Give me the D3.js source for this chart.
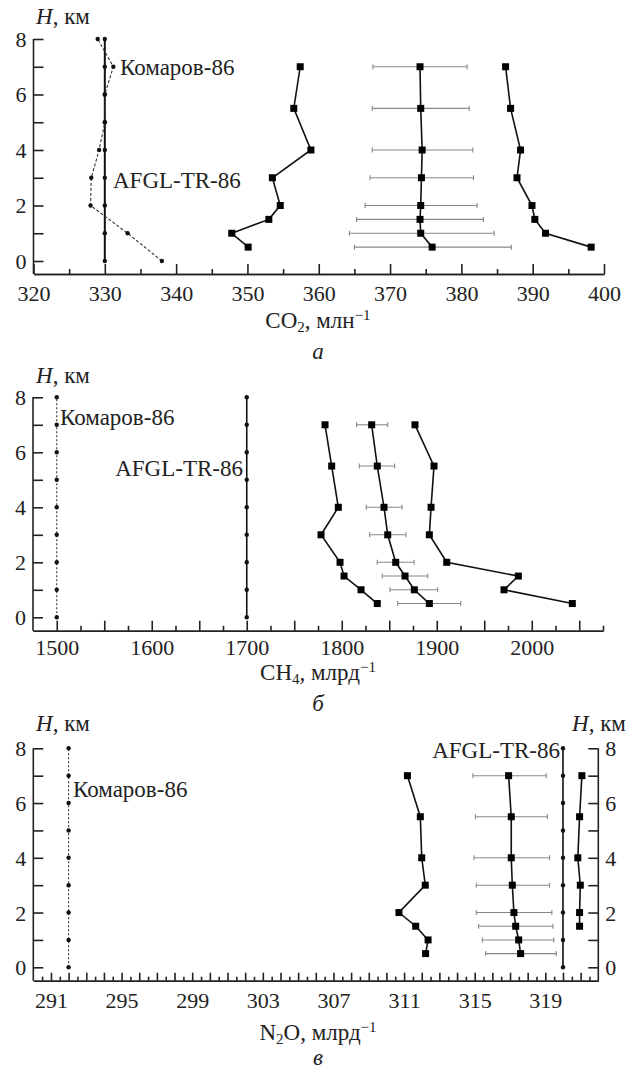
<!DOCTYPE html>
<html>
<head>
<meta charset="utf-8">
<script src="https://cdn.jsdelivr.net/npm/d3@7"></script>
<style>
  body { margin: 0; background: #fff; }
  svg { display: block; }
  .axis path, .axis line { stroke: #222; stroke-width: 1.6; }
  .axis text { font-size: 22px; fill: #222; }
  .lbl { font-size: 23px; fill: #222; }
</style>
</head>
<body>
<svg id="fig" width="635" height="1070" font-family="'Liberation Serif', 'Times New Roman', 'DejaVu Serif', serif"></svg>
<script>
// heights, km
const heightsGrid = [0, 1, 2, 3, 4, 5, 6, 7, 8];
const heightsObs = [0.5, 1, 1.5, 2, 3, 4, 5.5, 7];
const heightsN2oRight = [1.5, 2, 3, 4, 5.5, 7];

// CO2, ppm
const co2Afgl = [330, 330, 330, 330, 330, 330, 330, 330, 330];
const co2Komarov = [338.0, 333.2, 328.0, 328.1, 329.2, 330.0, 330.0, 331.2, 329.0];
const co2Left = [350.1, 347.8, 353.0, 354.6, 353.5, 358.9, 356.5, 357.4];
const co2Mid = [375.9, 374.3, 374.2, 374.3, 374.4, 374.5, 374.3, 374.2];
const co2MidLo = [365.0, 364.3, 365.3, 366.5, 367.2, 367.5, 367.5, 367.6];
const co2MidHi = [387.0, 384.6, 383.1, 382.2, 381.7, 381.6, 381.1, 380.8];
const co2Right = [398.2, 391.8, 390.3, 389.9, 387.8, 388.3, 386.9, 386.2];

// CH4, ppb
const ch4Afgl = [1700, 1700, 1700, 1700, 1700, 1700, 1700, 1700, 1700];
const ch4Komarov = [1500, 1500, 1500, 1500, 1500, 1500, 1500, 1500, 1500];
const ch4Left = [1837.4, 1820.3, 1802.4, 1798.2, 1778.2, 1796.4, 1789.4, 1782.4];
const ch4Mid = [1892.2, 1876.4, 1866.6, 1856.8, 1848.4, 1844.5, 1837.4, 1831.5];
const ch4MidLo = [1858.9, 1850.8, 1842.7, 1837.4, 1829.4, 1825.8, 1818.5, 1815.7];
const ch4MidHi = [1925.2, 1901.0, 1890.5, 1876.1, 1867.6, 1863.4, 1855.7, 1848.4];
const ch4Right = [2042.7, 1970.8, 1985.9, 1910.5, 1892.2, 1894.0, 1897.1, 1877.1];

// N2O, ppb
const n2oAfgl = [320, 320, 320, 320, 320, 320, 320, 320, 320];
const n2oKomarov = [292, 292, 292, 292, 292, 292, 292, 292, 292];
const n2oLeft = [312.22, 312.36, 311.66, 310.71, 312.2, 312.0, 311.92, 311.19];
const n2oMid = [317.6, 317.49, 317.32, 317.22, 317.13, 317.07, 317.07, 316.92];
const n2oMidLo = [315.62, 315.43, 315.22, 315.09, 315.09, 314.96, 315.04, 314.9];
const n2oMidHi = [319.62, 319.48, 319.43, 319.37, 319.24, 319.24, 319.11, 319.05];
const n2oRight = [320.94, 320.94, 320.98, 320.84, 320.94, 321.07];

// tick labels
const co2TickLabels = [320, 330, 340, 350, 360, 370, 380, 390, 400];
const ch4TickLabels = [1500, 1600, 1700, 1800, 1900, 2000];
const n2oTickLabels = [291, 295, 299, 303, 307, 311, 315, 319];
const hTickLabels = [0, 2, 4, 6, 8];

const svg = d3.select("#fig");
const zip = (hs, vs) => hs.map((h, i) => ({h: h, v: vs[i]}));

function drawPanel(o){
  const g = svg.append("g");
  const x = d3.scaleLinear().domain(o.xDomain).range(o.xRange);
  const y = d3.scaleLinear().domain([0, 8]).range(o.yRange);

  //x axis: short and long ticks pointing up
  g.append("g").classed("axis", true)
    .attr("transform", "translate(0," + o.axisY + ")")
    .call(d3.axisBottom(x).tickValues(o.minorX).tickSize(-o.minorLen).tickSizeOuter(0).tickFormat(""));
  let xa = g.append("g").classed("axis", true)
    .attr("transform", "translate(0," + o.axisY + ")")
    .call(d3.axisBottom(x).tickValues(o.majorX).tickSize(-o.majorLen).tickSizeOuter(0)
      .tickFormat(d => o.xLabels.includes(d) ? d : ""));
  xa.selectAll("text").attr("y", o.tickBase - o.axisY).attr("dy", null);

  //y axis (left, and right for the last panel)
  let sides = o.rightAxis ? ["left", "right"] : ["left"];
  sides.forEach(side => {
    let xPos = side === "left" ? o.xRange[0] : o.xRange[1];
    let mk = side === "left" ? d3.axisLeft : d3.axisRight;
    let ya = g.append("g").classed("axis", true).attr("transform", "translate(" + xPos + ",0)");
    ya.call(mk(y).tickValues(d3.range(0.5, 8, 1)).tickSize(-6).tickSizeOuter(0).tickFormat(""));
    ya.call(mk(y).tickValues(heightsGrid).tickSize(-10).tickSizeOuter(0)
      .tickFormat(d => hTickLabels.includes(d) ? d : ""));
    ya.select(".domain").remove();
    ya.selectAll("text").attr("x", side === "left" ? -7 : 7).attr("dy", "0.34em");
    ya.append("line").attr("x1", 0).attr("x2", 0).attr("y1", y(8)).attr("y2", o.axisY)
      .attr("stroke", "#222").attr("stroke-width", 1.6);
  });
  g.selectAll(".axis").attr("font-family", null).attr("font-size", null);

  let line = d3.line().x(d => x(d.v)).y(d => y(d.h));

  //reference profiles
  let afgl = zip(heightsGrid, o.afgl);
  g.append("path").datum(afgl).attr("d", line)
    .attr("fill", "none").attr("stroke", "#111").attr("stroke-width", o.afglWidth);
  let kom = zip(heightsGrid, o.komarov);
  g.append("path").datum(kom).attr("d", line)
    .attr("fill", "none").attr("stroke", "#333").attr("stroke-width", 1.1)
    .attr("stroke-dasharray", o.komDash);
  g.selectAll(null).data(afgl.concat(kom)).enter().append("circle")
    .attr("cx", d => x(d.v)).attr("cy", d => y(d.h)).attr("r", 2.2).attr("fill", "#111");

  //error bars of the middle profile
  let err = heightsObs.map((h, i) => ({h: h, lo: o.midLo[i], hi: o.midHi[i]}));
  let eb = g.append("g").attr("stroke", "#888").attr("stroke-width", 1.1);
  eb.selectAll(null).data(err).enter().append("line")
    .attr("x1", d => x(d.lo)).attr("x2", d => x(d.hi))
    .attr("y1", d => y(d.h)).attr("y2", d => y(d.h));
  eb.selectAll(null).data(err.flatMap(d => [{h: d.h, v: d.lo}, {h: d.h, v: d.hi}])).enter().append("line")
    .attr("x1", d => x(d.v)).attr("x2", d => x(d.v))
    .attr("y1", d => y(d.h) - 2.5).attr("y2", d => y(d.h) + 2.5);

  //measured profiles
  o.profiles.forEach(p => {
    let pts = zip(p.h, p.v);
    g.append("path").datum(pts).attr("d", line)
      .attr("fill", "none").attr("stroke", "#111").attr("stroke-width", 1.6);
    g.selectAll(null).data(pts).enter().append("rect")
      .attr("x", d => x(d.v) - 3.5).attr("y", d => y(d.h) - 3.5)
      .attr("width", 7).attr("height", 7).attr("fill", "#000");
  });

  //texts
  o.hLabels.forEach(hl => {
    let t = g.append("text").classed("lbl", true).attr("x", hl[0]).attr("y", hl[1]);
    t.append("tspan").attr("font-style", "italic").text("H");
    t.append("tspan").text(",  км");
  });
  g.append("text").classed("lbl", true).attr("x", o.komPos[0]).attr("y", o.komPos[1])
    .attr("text-anchor", o.komPos[2]).text("Комаров-86");
  g.append("text").classed("lbl", true).attr("x", o.afglPos[0]).attr("y", o.afglPos[1])
    .attr("text-anchor", o.afglPos[2]).text("AFGL-TR-86");

  let xt = g.append("text").classed("lbl", true).attr("x", 318).attr("y", o.titleBase)
    .attr("text-anchor", "middle");
  xt.append("tspan").text(o.gas[0]);
  xt.append("tspan").attr("font-size", 15).attr("dy", 4).text(o.gas[1]);
  xt.append("tspan").attr("dy", -4).text(o.gas[2] + ",  " + o.unit);
  xt.append("tspan").attr("font-size", 15).attr("dy", -8).text("−1");
  g.append("text").classed("lbl", true).attr("x", 318).attr("y", o.letterBase)
    .attr("text-anchor", "middle").attr("font-style", "italic").text(o.letter);
}

drawPanel({
  xDomain: [320, 400], xRange: [33.5, 604], yRange: [261, 39], axisY: 274,
  majorX: d3.range(320, 401, 10), minorX: d3.range(325, 400, 10), majorLen: 10, minorLen: 5,
  xLabels: co2TickLabels, tickBase: 300.5,
  afgl: co2Afgl, afglWidth: 2, komarov: co2Komarov, komDash: "3,2",
  midLo: co2MidLo, midHi: co2MidHi,
  profiles: [{h: heightsObs, v: co2Left}, {h: heightsObs, v: co2Mid}, {h: heightsObs, v: co2Right}],
  hLabels: [[36, 24]], komPos: [120, 75, "start"], afglPos: [113, 188, "start"],
  gas: ["CO", "2", ""], unit: "млн", titleBase: 328, letter: "а", letterBase: 359
});

drawPanel({
  xDomain: [1475, 2075], xRange: [33, 603], yRange: [617.3, 397.3], axisY: 630.7,
  majorX: d3.range(1500, 2051, 50), minorX: d3.range(1525, 2076, 50), majorLen: 10, minorLen: 5,
  xLabels: ch4TickLabels, tickBase: 655,
  afgl: ch4Afgl, afglWidth: 1.6, komarov: ch4Komarov, komDash: "2,2",
  midLo: ch4MidLo, midHi: ch4MidHi,
  profiles: [{h: heightsObs, v: ch4Left}, {h: heightsObs, v: ch4Mid}, {h: heightsObs, v: ch4Right}],
  hLabels: [[36, 383]], komPos: [60, 425, "start"], afglPos: [243, 476, "end"],
  gas: ["CH", "4", ""], unit: "млрд", titleBase: 680, letter: "б", letterBase: 711
});

drawPanel({
  xDomain: [290, 322], xRange: [33.3, 598.3], yRange: [967.3, 748.3], axisY: 980.7,
  majorX: d3.range(291, 322, 1), minorX: d3.range(290.5, 322, 1), majorLen: 8, minorLen: 4,
  xLabels: n2oTickLabels, tickBase: 1008,
  afgl: n2oAfgl, afglWidth: 1.6, komarov: n2oKomarov, komDash: "2,2",
  midLo: n2oMidLo, midHi: n2oMidHi, rightAxis: true,
  profiles: [{h: heightsObs, v: n2oLeft}, {h: heightsObs, v: n2oMid}, {h: heightsN2oRight, v: n2oRight}],
  hLabels: [[36, 731], [572, 731]], komPos: [73, 797, "start"], afglPos: [560, 758, "end"],
  gas: ["N", "2", "O"], unit: "млрд", titleBase: 1040, letter: "в", letterBase: 1065
});
</script>
</body>
</html>
